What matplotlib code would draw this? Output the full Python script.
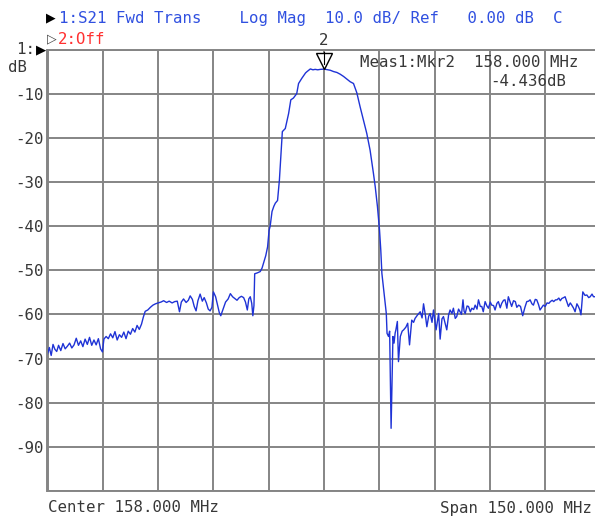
import matplotlib
matplotlib.use("Agg")
import matplotlib.pyplot as plt

# S21 trace (MHz, dB)
freq_mhz = [
    83.0, 83.5, 84.0, 84.5, 85.0, 85.5, 86.0, 86.6, 87.2, 87.8, 88.4, 89.0, 89.6, 90.2, 90.8,
    91.4, 92.0, 92.6, 93.2, 93.8, 94.4, 95.0, 95.6, 96.2, 96.8, 97.4, 97.9, 98.3, 98.9, 99.5,
    100.1, 100.7, 101.3, 101.9, 102.5, 103.1, 103.7, 104.3, 104.9, 105.5, 106.1, 106.7, 107.3,
    107.9, 108.5, 109.0, 109.5, 110.2, 110.9, 111.6, 112.3, 113.0, 113.8, 114.5, 115.3, 116.0,
    116.8, 117.5, 118.2, 118.8, 119.3, 119.9, 120.6, 121.2, 121.7, 122.3, 122.8, 123.3, 123.8,
    124.4, 125.0, 125.5, 126.1, 126.6, 127.1, 127.6, 128.0, 128.6, 129.1, 129.6, 130.0, 130.6,
    131.3, 132.0, 132.6, 133.2, 133.8, 134.4, 135.0, 135.6, 136.2, 136.7, 137.2, 137.6, 138.0,
    138.4, 138.7, 139.0, 139.2, 139.9, 140.7, 141.2, 141.6, 142.2, 142.7, 143.1, 143.4, 143.9,
    144.4, 144.8, 145.4, 145.9, 146.3, 146.7, 147.5, 148.0, 148.4, 149.0, 149.7, 150.6, 151.1,
    152.0, 153.0, 153.4, 154.3, 155.0, 155.6, 156.3, 157.0, 158.0, 159.0, 159.7, 160.6, 161.5,
    162.4, 163.3, 164.2, 165.1, 166.0, 166.9, 167.8, 168.9, 169.6, 170.5, 171.4, 171.9, 172.5,
    173.06, 173.4, 173.7, 174.2, 174.6, 174.9, 175.1, 175.5, 175.8, 176.0, 176.2, 176.4, 176.7,
    177.0, 177.3, 177.5, 177.9, 178.2, 178.7, 179.2, 179.6, 180.2, 180.7, 181.2, 181.8, 182.3,
    182.7, 183.4, 184.1, 184.6, 185.0, 185.5, 185.9, 186.4, 186.8, 187.3, 187.7, 188.4, 189.1,
    189.5, 190.0, 190.4, 190.9, 191.3, 191.8, 192.2, 192.7, 193.1, 193.6, 194.0, 194.5, 194.9,
    195.3, 195.7, 196.0, 196.3, 196.8, 197.2, 197.7, 198.1, 198.6, 199.0, 199.5, 199.9, 200.4,
    200.8, 201.2, 201.7, 202.2, 202.6, 203.1, 203.5, 204.0, 204.4, 204.9, 205.3, 205.8, 206.2,
    206.7, 207.1, 207.6, 208.0, 208.5, 208.9, 209.4, 209.9, 210.3, 210.8, 211.3, 211.9, 212.5,
    213.0, 213.5, 213.9, 214.4, 214.8, 215.3, 215.7, 216.2, 216.6, 217.1, 217.5, 218.0, 218.5,
    219.0, 219.4, 219.9, 220.3, 220.8, 221.2, 221.7, 222.1, 222.5, 223.0, 223.4, 223.9, 224.3,
    224.8, 225.2, 225.7, 226.1, 226.6, 227.0, 227.4, 227.7, 228.0, 228.2, 228.8, 229.3, 229.8,
    230.2, 230.7, 231.1, 231.6, 232.2, 233.0,
]
s21_db = [
    -69.0, -67.5, -69.3, -66.8, -67.9, -68.4, -67.0, -68.2, -66.6, -67.8, -67.2, -66.5, -67.6, -66.9, -65.4,
    -67.0, -66.0, -67.3, -65.6, -66.8, -65.2, -67.0, -65.8, -66.9, -65.5, -67.8, -68.5, -65.6, -65.0, -65.5,
    -64.4, -65.3, -63.9, -65.8, -64.6, -65.2, -64.0, -65.5, -63.8, -64.5, -63.2, -64.0, -62.5,
    -63.4, -62.2, -60.6, -59.3, -59.0, -58.4, -57.9, -57.6, -57.4, -57.2, -56.9, -57.3, -57.0,
    -57.4, -57.1, -57.0, -59.4, -57.2, -56.5, -57.3, -56.8, -55.8, -56.6, -58.2, -59.2, -56.9,
    -55.4, -57.0, -56.2, -57.4, -58.8, -59.2, -58.4, -54.9, -56.0, -57.8, -59.6, -60.3, -58.9,
    -57.2, -56.5, -55.3, -56.0, -56.4, -56.8, -56.2, -55.9, -56.2, -57.2, -59.0, -56.5, -56.0,
    -57.5, -60.3, -58.0, -50.8, -50.6, -50.3, -49.5, -48.4, -46.7, -44.7, -41.0, -40.0, -36.7,
    -35.5, -34.8, -34.2, -29.6, -24.3, -18.6, -17.9, -16.0, -14.5, -11.4, -11.0, -10.0, -7.7,
    -6.5, -5.3, -5.0, -4.4, -4.6, -4.5, -4.6, -4.5, -4.436, -4.6, -4.7, -5.0, -5.2,
    -5.6, -6.1, -6.7, -7.3, -7.7, -9.8, -13.0, -16.7, -19.0, -22.8, -28.0, -31.1, -35.6,
    -40.9, -45.4, -50.7, -54.5, -57.5, -59.8, -64.3, -65.0, -63.8, -74.9, -85.8, -77.9, -65.0,
    -66.5, -64.2, -63.5, -61.6, -70.7, -65.0, -63.8, -63.5, -62.9, -62.0, -66.9, -61.3, -61.8,
    -60.9, -60.1, -59.4, -60.8, -57.6, -60.2, -62.8, -60.4, -59.8, -61.8, -59.0, -63.5, -59.8,
    -65.6, -61.0, -60.5, -62.2, -63.5, -60.1, -59.0, -59.8, -58.6, -60.9, -60.5, -58.8, -59.4,
    -60.0, -56.7, -59.3, -59.8, -58.1, -58.2, -59.4, -58.6, -58.9, -57.9, -58.8, -56.7, -58.2,
    -58.2, -59.4, -57.1, -58.1, -58.6, -57.2, -57.9, -58.0, -59.0, -57.5, -57.1, -58.5, -57.5,
    -56.8, -56.7, -58.6, -56.0, -57.2, -58.2, -56.9, -57.1, -58.4, -57.9, -58.2, -60.3, -58.4,
    -57.1, -57.0, -56.7, -57.6, -57.9, -56.6, -56.7, -57.8, -59.0, -58.4, -57.9, -58.2, -57.4,
    -57.5, -57.1, -56.8, -57.1, -56.7, -56.7, -56.3, -56.9, -56.4, -56.2, -56.0, -57.2, -58.2,
    -57.4, -57.9, -58.6, -59.4, -57.6, -58.2, -59.0, -60.1, -57.0, -54.9, -55.7, -55.6, -56.2,
    -56.0, -55.4, -56.0, -56.0, -55.4, -55.6,
]

center_mhz = 158.0
span_mhz = 150.0
ref_db = 0.0
scale_db = 10.0
mkr_freq = 158.0
mkr_db = -4.436
y_labels = ["-10", "-20", "-30", "-40", "-50", "-60", "-70", "-80", "-90"]

W, H = 595, 517
FONT = "DejaVu Sans Mono"
FS = 11.3
BLUE = "#3050e0"
TRACE = "#1f33d6"
GRID = "#858585"
TXT = "#383838"


def fx(px):
    return px / W


def fy(py):
    return 1 - py / H


fig = plt.figure(figsize=(W / 100, H / 100), dpi=100)
fig.patch.set_facecolor("white")
ax = fig.add_axes([fx(47.5), 26 / H, 553 / W, 441.5 / H])

f0 = center_mhz - span_mhz / 2
f1 = center_mhz + span_mhz / 2
ax.set_xlim(f0, f1)
ax.set_ylim(ref_db - 10 * scale_db, ref_db)
ax.set_xticks([f0 + k * span_mhz / 10 for k in range(11)])
ax.set_yticks([ref_db - k * scale_db for k in range(11)])
ax.set_xticklabels([])
ax.set_yticklabels([""] + y_labels + [""])
ax.tick_params(length=0, pad=3, labelsize=FS, labelcolor=TXT)
for lab in ax.get_yticklabels():
    lab.set_family(FONT)
ax.grid(True, color=GRID, lw=1.4)
for s in ax.spines.values():
    s.set_color(GRID)
    s.set_linewidth(1.4)

ax.plot(freq_mhz, s21_db, color=TRACE, lw=1.0)

# marker 2
ax.plot([mkr_freq], [-2.5], marker="v", ms=12, mfc="white", mec="black",
        mew=1.0, clip_on=False, zorder=5)
ax.plot([mkr_freq, mkr_freq], [-3.2, -0.5], color="black", lw=0.8, zorder=6)
ax.text(mkr_freq, 0.4, "2", ha="center", va="bottom", family=FONT, fontsize=FS,
        color=TXT, clip_on=False)

# marker readout
fig.text(fx(360), fy(63), "Meas1:Mkr2  158.000 MHz", family=FONT, fontsize=FS,
         color=TXT, va="center")
fig.text(fx(490), fy(82), "%.3fdB" % mkr_db, family=FONT, fontsize=FS,
         color=TXT, va="center")

# header
fig.text(fx(46), fy(18), "\u25b6", family="DejaVu Sans", fontsize=9, color="black", va="center")
fig.text(fx(59), fy(19), "1:S21 Fwd Trans    Log Mag  10.0 dB/ Ref   0.00 dB  C",
         family=FONT, fontsize=FS, color=BLUE, va="center")
fig.text(fx(47), fy(39), "\u25b7", family="DejaVu Sans", fontsize=9, color="#404040", va="center")
fig.text(fx(58), fy(39), "2:Off", family=FONT, fontsize=FS, color="#ff3030", va="center")

# reference level indicator
fig.text(fx(35), fy(50), "1:", family=FONT, fontsize=FS, color=TXT, va="center", ha="right")
fig.text(fx(36), fy(50), "\u25b6", family="DejaVu Sans", fontsize=9.5, color="black", va="center")
fig.text(fx(8), fy(67), "dB", family=FONT, fontsize=FS, color=TXT, va="center")

# footer
fig.text(fx(48), fy(508), "Center %.3f MHz" % center_mhz, family=FONT, fontsize=FS,
         color=TXT, va="center")
fig.text(fx(440), fy(508), "Span %.3f MHz" % span_mhz, family=FONT, fontsize=FS,
         color=TXT, va="center")

fig.savefig("out.png", dpi=100)
